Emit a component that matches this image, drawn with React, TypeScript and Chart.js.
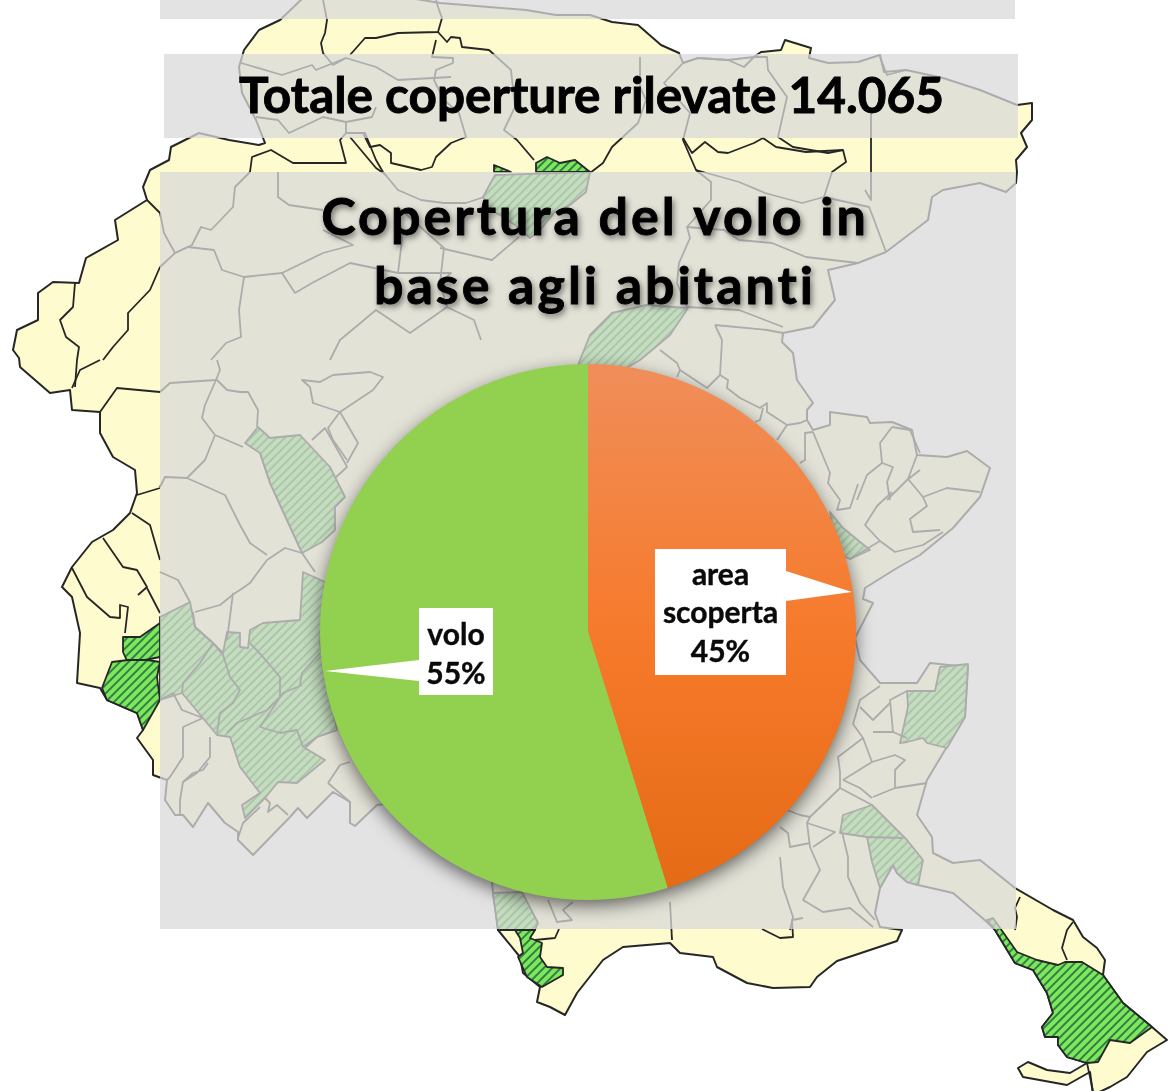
import React, { useEffect, useRef } from "react";
import { Chart, registerables } from "chart.js";

Chart.register(...registerables);

// ---- chart data ----
const categories = ["area scoperta", "volo"];
const shares = [45.2, 54.8];
const sliceColors = ["#F67A2B", "#92D050"];
const headline = "Totale coperture rilevate 14.065";
const chartTitle = ["Copertura del volo in", "base agli abitanti"];

// ---- decorative background map (outline, districts, highlighted districts) ----
const mapOutline =
  "305,-4 280,20 259,30 244,50 239,67 242,93 256,120 265,143 259,145 229,140 199,133 171,147 169,160 150,170 143,187 147,200 115,220 118,240 86,258 79,283 53,282 38,293 38,320 17,330 13,350 19,358 20,367 35,380 50,393 70,390 72,410 100,412 100,433 113,457 135,470 137,493 130,513 113,530 92,542 72,567 62,587 72,597 80,633 77,683 100,688 107,700 137,713 143,730 137,738 153,760 153,775 167,780 165,800 175,815 183,815 193,827 208,803 225,823 238,832 238,840 253,855 290,817 298,808 307,818 333,792 350,802 350,823 355,826 377,805 420,800 490,860 493,893 498,930 520,957 523,973 540,987 537,1002 550,1007 565,1015 577,993 603,960 623,947 670,943 680,953 713,957 717,967 747,983 773,988 810,987 817,977 837,961 897,941 902,930 880,927 875,913 880,888 893,865 897,873 907,882 918,885 953,893 987,922 995,930 1015,963 1033,970 1047,993 1053,1013 1042,1027 1045,1037 1058,1037 1058,1045 1067,1057 1087,1063 1070,1073 1047,1070 1028,1062 1018,1068 1023,1077 1067,1085 1090,1072 1093,1095 1110,1087 1127,1077 1147,1052 1167,1040 1152,1027 1123,1003 1103,975 1105,960 1097,948 1083,937 1073,920 1053,910 1015,888 980,860 953,863 933,853 932,837 917,815 927,780 945,750 965,717 968,667 930,663 917,683 880,683 860,660 855,638 873,603 863,599 865,588 897,568 920,555 953,528 980,497 990,468 967,451 947,457 917,455 912,430 892,422 870,423 867,417 830,412 830,425 813,430 807,420 807,410 813,403 797,380 793,353 782,342 783,333 813,327 835,300 828,270 858,263 886,252 928,220 932,197 943,190 980,183 1006,192 1016,183 1017,172 1016,160 1027,147 1021,133 1032,120 1032,103 1017,105 980,90 943,78 906,70 884,72 880,55 858,62 828,63 809,58 811,48 785,40 781,50 761,52 754,57 728,60 698,58 683,63 679,53 661,45 638,25 612,22 590,15 556,15 526,10 489,7 440,3 398,-4";

const districtLines = [
  "323,0 327,20 325,33 321,43 323,53 333,65 346,58 376,67 398,80 451,77",
  "350,55 365,38 376,38 398,33 438,32 442,18 438,7 436,0",
  "438,32 447,42 451,37 460,38 462,47 489,50 511,70 515,107 504,130 517,140 534,160",
  "436,40 432,57 453,58 453,63 436,70 434,80 444,100 459,113 466,137 451,143 436,157 432,167 421,170 391,163 391,153 380,145 370,147 363,133",
  "241,63 282,75 312,65 316,70 346,58",
  "256,117 278,120 289,133 323,117 346,122 372,117 376,107",
  "346,122 346,133 340,140 346,163 293,163 271,150 252,157 250,172",
  "346,133 365,133 376,160 383,172 398,190 421,200 444,203 466,203 484,197",
  "350,137 376,168 386,175",
  "250,172 235,187 233,207 211,230 201,227 192,245 175,253 160,267",
  "147,200 160,213 164,233 175,253",
  "160,267 150,290 128,313 128,330 113,347 103,360",
  "75,283 73,307 60,320 66,337 79,347 77,360 75,387",
  "100,360 80,370 72,388",
  "100,412 117,388 160,392",
  "137,495 160,488",
  "132,513 150,525 160,560",
  "103,538 123,567 137,570 147,587 138,595",
  "147,588 160,613",
  "72,568 87,597 110,617 120,618 120,605 128,607 125,633",
  "160,392 170,383 216,380 220,370 217,360",
  "216,380 205,405 202,418 215,435 243,447",
  "217,380 227,390 240,392 248,392 258,410 257,427",
  "215,435 205,460 187,478",
  "160,487 165,477 187,478 225,495 240,525 250,543 267,555",
  "267,560 250,583 240,590 235,593 220,605 195,612",
  "267,560 285,548 302,553 315,572",
  "160,572 178,580 190,602",
  "233,593 227,640",
  "260,453 270,483 302,553",
  "312,440 325,428 345,463 347,467 335,478",
  "340,412 328,428 333,440 347,460",
  "340,412 358,443 347,463",
  "310,387 313,403 340,412 373,390 383,377 370,372 333,375 320,382 302,380 310,387",
  "167,780 170,777 183,757 183,727 203,718",
  "210,737 210,757 197,773 183,782 193,773 203,770 208,763",
  "183,782 180,800 180,815",
  "160,700 173,693 182,710 203,718",
  "265,798 270,803 268,812 277,805 288,815",
  "260,807 243,823 238,838",
  "328,783 340,765 350,762",
  "328,783 350,802",
  "193,612 195,627 213,643 200,663 183,683 182,693",
  "213,643 223,655 230,677 240,690 233,703 220,713 217,733",
  "250,643 263,657 280,677 280,697 267,710 237,723 227,733",
  "300,685 302,673 320,653",
  "260,727 280,733 297,730 303,747 317,737 337,730",
  "260,727 283,693 302,685",
  "175,253 188,247 214,250 222,270 244,277 282,273 323,253 353,245 323,230",
  "282,273 295,293 312,283 350,263 398,273",
  "244,277 239,310 241,337 226,343 211,360",
  "398,273 402,240 398,207 444,248 440,283 447,307 474,320 481,340",
  "278,172 278,197 289,205 323,210",
  "440,248 492,260 519,237",
  "398,273 451,273 440,283",
  "447,307 410,333 376,310 340,340 330,360",
  "640,57 640,87 646,100 638,123 612,147 603,163 590,173",
  "683,63 664,83 690,113 683,140 696,170 711,182 711,200 687,227 690,238 679,263 677,283 687,307",
  "683,63 698,58 728,60 744,67 754,57 767,57 768,70 787,97 778,137 793,147 828,153 843,150 846,162 832,172 824,197 869,207 873,217 886,252",
  "880,57 887,75 906,70",
  "871,113 871,200 865,190",
  "683,138 692,153 705,142 718,152 728,153 754,143 763,138 776,147 806,152 843,150",
  "696,170 739,182 765,193 802,203 824,197",
  "687,227 724,230 739,240 772,243 806,257 858,263",
  "687,307 739,310 783,327",
  "715,325 722,340 720,375 728,380 727,388 740,398 760,408 767,403 767,412 787,425 777,440",
  "715,325 767,330 783,333",
  "720,375 707,388 680,370 677,377",
  "660,350 677,363 680,370",
  "763,408 760,420 755,422",
  "787,425 800,423 807,420",
  "813,432 805,433 805,460 800,463",
  "813,432 830,473 828,483 840,500 837,510 850,508 858,484",
  "892,427 880,443 882,463 867,475 857,500",
  "882,463 893,467 887,482 890,500",
  "920,470 907,480 887,500",
  "892,427 910,430 920,453",
  "917,455 908,479 923,497 947,488 980,492",
  "923,497 927,506 910,519 913,532 940,530",
  "892,492 877,506 865,525 880,541 895,552 923,545 943,532",
  "850,559 880,541",
  "880,686 860,700 853,724 863,738 838,757 840,772 840,788 872,805",
  "907,691 890,700 893,732",
  "860,707 873,720 890,703",
  "873,732 893,732 907,738",
  "863,738 872,762 895,755 905,760 895,770 895,788 873,797",
  "843,780 872,762",
  "843,780 860,788 872,798",
  "895,788 927,783",
  "840,788 810,817 800,815 787,810",
  "810,817 807,823 810,847 820,870 803,900 823,912 850,908 873,927",
  "807,823 835,832 813,847",
  "842,832 848,857 848,877 860,903 875,920",
  "780,827 788,833 790,847 810,843",
  "780,857 783,887 793,917 790,930",
  "867,837 903,838",
  "670,902 672,940",
  "548,900 557,922 572,920 563,910 573,902",
  "535,940 555,938 559,929",
  "762,929 780,938 793,937 792,920 803,918",
  "1020,897 1015,908 1017,917 1015,930",
  "1073,922 1067,930 1062,948 1067,960",
  "1087,1063 1093,1091",
];

const coveredLight = [
  "245,443 258,427 270,438 300,435 330,467 345,497 335,507 335,530 322,542 302,553 270,483 260,453",
  "160,617 190,602 195,627 213,643 223,653 227,632 240,633 240,647 248,648 250,630 263,623 300,620 303,572 325,582 320,643 325,672 337,730 317,737 305,748 325,760 297,783 278,782 265,798 245,818 242,805 260,793 240,767 230,737 217,735 202,717 182,693 160,700",
  "483,197 495,175 590,172 586,192 570,205 555,212 540,230 530,238 515,225 500,215 490,210",
  "578,365 590,335 612,313 646,305 688,308 670,335 640,360 620,372",
  "830,512 843,528 870,550 850,559 837,554",
  "940,667 968,664 965,717 947,748 927,743 923,738 907,742 900,743 908,707 907,691 935,691",
  "843,815 872,805 907,840 923,860 918,885 907,882 897,873 893,865 880,888 872,862 867,837 840,833",
  "493,893 522,892 538,923 535,930 498,930",
  "536,172 536,163 547,157 560,163 575,160 590,172",
  "494,172 494,165 511,172",
  "123,637 140,637 160,623 160,657 145,660 128,663 123,652",
  "112,662 128,660 147,660 160,662 157,677 160,700 143,730 137,713 107,700 102,688",
  "515,930 535,930 530,938 542,943 540,957 547,967 563,968 563,975 542,987 527,977 523,968 518,957 523,953 520,938",
  "987,920 993,918 1017,952 1037,960 1058,965 1065,962 1082,962 1103,975 1123,1003 1152,1027 1130,1043 1110,1040 1098,1062 1087,1063 1067,1057 1058,1045 1058,1037 1045,1037 1042,1027 1053,1013 1047,993 1033,970 1015,963 995,930",
];

const veilBands = [
  { x: 160, y: 0, width: 855, height: 19 },
  { x: 164, y: 54, width: 854, height: 84 },
  { x: 160, y: 172, width: 856, height: 757 },
];

function MapBackdrop() {
  const ink = "#262626";
  return (
    <svg
      width={1173}
      height={1091}
      style={{ position: "absolute", left: 0, top: 0, display: "block" }}
    >
      <defs>
        <pattern
          id="hatch"
          width={6}
          height={6}
          patternUnits="userSpaceOnUse"
          patternTransform="rotate(-45)"
        >
          <rect width={6} height={6} fill="#7CE95C" />
          <line x1={0} y1={1} x2={6} y2={1} stroke="#2A6A40" strokeWidth={1.7} />
        </pattern>
      </defs>
      <polygon points={mapOutline} fill="#FEFBCE" stroke={ink} strokeWidth={2} strokeLinejoin="round" />
      {coveredLight.map((p, i) => (
        <polygon key={i} points={p} fill="url(#hatch)" stroke={ink} strokeWidth={1.8} strokeLinejoin="round" />
      ))}
      {districtLines.map((p, i) => (
        <polyline key={i} points={p} fill="none" stroke={ink} strokeWidth={1.8} strokeLinejoin="round" />
      ))}
      {veilBands.map((b, i) => (
        <rect key={i} {...b} fill="rgba(217,217,217,0.75)" />
      ))}
    </svg>
  );
}

const FONT = "Lato, Carlito, sans-serif";

// Full-disc shadow under the slices, taken from the arc geometry of the chart.
const discShadow = {
  id: "discShadow",
  beforeDatasetsDraw(chart: any) {
    const arc = chart.getDatasetMeta(0).data[0];
    if (!arc) return;
    const { ctx } = chart;
    ctx.save();
    ctx.shadowColor = "rgba(0,0,0,0.6)";
    ctx.shadowBlur = 18;
    ctx.shadowOffsetX = 0;
    ctx.shadowOffsetY = 6;
    ctx.fillStyle = "#92D050";
    ctx.beginPath();
    ctx.arc(arc.x, arc.y, arc.outerRadius - 1, 0, Math.PI * 2);
    ctx.fill();
    ctx.restore();
  },
};

// White call-outs holding category name + percentage.
const callouts = {
  id: "callouts",
  afterDatasetsDraw(chart: any) {
    const { ctx } = chart;
    const total = shares.reduce((a, b) => a + b, 0);
    const layouts = [
      { box: [655, 549, 131, 126], from: [[786, 571], [786, 601]], tip: [852, 592], lines: ["area", "scoperta"], cx: 720.5, y: [575, 613.5, 652] },
      { box: [419, 608, 74, 87], from: [[419, 660], [419, 681]], tip: [325, 671], lines: ["volo"], cx: 456, y: [635, 674] },
    ];
    layouts.forEach((l, i) => {
      ctx.save();
      ctx.fillStyle = "#FFFFFF";
      ctx.fillRect(l.box[0], l.box[1], l.box[2], l.box[3]);
      ctx.beginPath();
      ctx.moveTo(l.from[0][0], l.from[0][1]);
      ctx.lineTo(l.tip[0], l.tip[1]);
      ctx.lineTo(l.from[1][0], l.from[1][1]);
      ctx.closePath();
      ctx.fill();
      ctx.fillStyle = "#0A0A0A";
      ctx.strokeStyle = "#0A0A0A";
      ctx.lineWidth = 0.4;
      ctx.font = `bold 30px ${FONT}`;
      ctx.textAlign = "center";
      ctx.textBaseline = "middle";
      const text = [...l.lines, `${Math.round((shares[i] / total) * 100)}%`];
      text.forEach((t, k) => {
        ctx.fillText(t, l.cx, l.y[k]);
        ctx.strokeText(t, l.cx, l.y[k]);
      });
      ctx.restore();
    });
  },
};

// Headline and the chart title with its soft text shadow.
const headings = {
  id: "headings",
  afterDraw(chart: any) {
    const { ctx } = chart;
    ctx.save();
    ctx.textAlign = "center";
    ctx.textBaseline = "alphabetic";
    ctx.fillStyle = "#000000";
    ctx.strokeStyle = "#000000";
    ctx.lineWidth = 0.9;
    ctx.font = `bold 49.5px ${FONT}`;
    ctx.fillText(headline, 591.5, 113);
    ctx.strokeText(headline, 591.5, 113);
    ctx.font = `bold 52px ${FONT}`;
    (ctx as any).letterSpacing = "3px";
    ctx.shadowColor = "rgba(0,0,0,0.55)";
    ctx.shadowBlur = 6;
    ctx.shadowOffsetX = 2;
    ctx.shadowOffsetY = 3;
    ctx.fillText(chartTitle[0], 595, 235);
    ctx.fillText(chartTitle[1], 595, 304);
    ctx.shadowColor = "transparent";
    ctx.strokeText(chartTitle[0], 595, 235);
    ctx.strokeText(chartTitle[1], 595, 304);
    ctx.restore();
  },
};

export default function App() {
  const ref = useRef<HTMLCanvasElement | null>(null);

  useEffect(() => {
    if (!ref.current) return;
    const chart = new Chart(ref.current, {
      type: "pie",
      data: {
        labels: categories,
        datasets: [
          {
            data: shares,
            borderWidth: 0,
            backgroundColor: (c: any) => {
              if (c.dataIndex !== 0) return sliceColors[c.dataIndex];
              const area = c.chart.chartArea;
              if (!area) return sliceColors[0];
              const g = c.chart.ctx.createLinearGradient(0, area.top, 0, area.bottom);
              g.addColorStop(0, "#F08E5A");
              g.addColorStop(0.5, sliceColors[0]);
              g.addColorStop(1, "#E56A14");
              return g;
            },
          },
        ],
      },
      options: {
        responsive: false,
        animation: false,
        layout: { padding: { left: 320, right: 317, top: 364, bottom: 191 } },
        plugins: {
          legend: { display: false },
          tooltip: { enabled: false },
          title: { display: false },
        },
      },
      plugins: [discShadow, callouts, headings],
    } as any);
    return () => chart.destroy();
  }, []);

  return (
    <div style={{ position: "absolute", left: 0, top: 0, width: 1173, height: 1091, overflow: "hidden", background: "#fff" }}>
      <MapBackdrop />
      <canvas
        ref={ref}
        width={1173}
        height={1091}
        style={{ position: "absolute", left: 0, top: 0, display: "block" }}
      />
    </div>
  );
}
